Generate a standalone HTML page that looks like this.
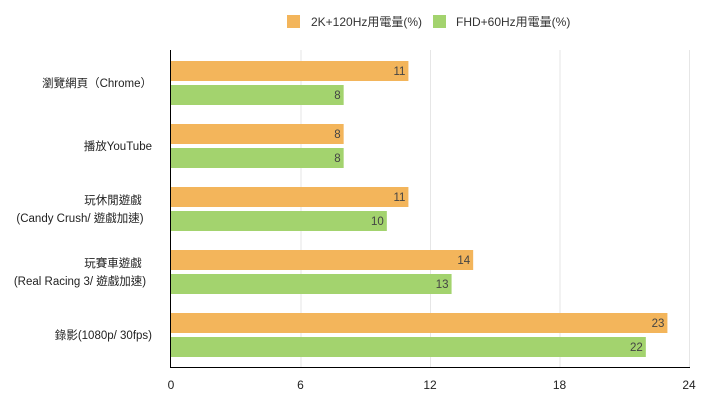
<!DOCTYPE html>
<html><head><meta charset="utf-8"><style>
body{margin:0;background:#fff;width:720px;height:404px;overflow:hidden;font-family:"Liberation Sans","Noto Sans CJK TC",sans-serif;}
</style></head><body>
<svg id="chart" width="720" height="404" xmlns="http://www.w3.org/2000/svg" font-family="Liberation Sans, Noto Sans CJK TC, sans-serif">
<g>
<rect x="287" y="15" width="13" height="13" fill="#F3B55B"/>
<text x="311" y="26" font-size="12" fill="#333">2K+120Hz用電量(%)</text>
<rect x="433" y="15" width="13" height="13" fill="#A3D36E"/>
<text x="456" y="26" font-size="12" fill="#333">FHD+60Hz用電量(%)</text>
</g>
<g id="grid"></g><g id="bars"></g><g id="labels"></g>
<line x1="170.5" y1="50" x2="170.5" y2="368" stroke="#000" stroke-width="1"/>
<line x1="170" y1="367.5" x2="690" y2="367.5" stroke="#000" stroke-width="1"/>
</svg>
<script>
const categories=[["瀏覽網頁（Chrome）"],["播放YouTube"],["玩休閒遊戲","(Candy Crush/ 遊戲加速)"],["玩賽車遊戲","(Real Racing 3/ 遊戲加速)"],["錄影(1080p/ 30fps)"]];
const series2K=[11,8,11,14,23];
const seriesFHD=[8,8,10,13,22];
const ticks=[0,6,12,18,24];
const NS="http://www.w3.org/2000/svg";
const x0=171,x1=689,xmax=24;
function xs(v){return x0+(x1-x0)*v/xmax;}
function gy(i){return 61+i*63;}
const grid=document.getElementById('grid'),bars=document.getElementById('bars'),labels=document.getElementById('labels');
function mk(tag,attrs,parent){const e=document.createElementNS(NS,tag);for(const k in attrs)e.setAttribute(k,attrs[k]);parent.appendChild(e);return e;}
ticks.forEach(t=>{
  if(t>0){const l=mk('line',{x1:xs(t)+0.5,x2:xs(t)+0.5,y1:50,y2:367,stroke:'#e6e6e6'},grid);
  
  }
  const tx=mk('text',{x:xs(t),y:389,'text-anchor':'middle','font-size':12,fill:'#222'},labels);
  tx.textContent=t;
  
  
});
categories.forEach((c,i)=>{
  const y=gy(i);
  [[series2K[i],'#F3B55B',0,'2k'],[seriesFHD[i],'#A3D36E',24,'fhd']].forEach(([v,col,off,nm])=>{
    const r=mk('rect',{x:x0,y:y+off,width:xs(v)-x0,height:20,fill:col},bars);
    
    
    const t=mk('text',{x:xs(v)-3,y:y+off+14,'text-anchor':'end','font-size':11.5,fill:'#444'},labels);
    t.textContent=v;
    
    
  });
  const cy=y+22;
  c.forEach((line,j)=>{
    const single=c.length==1;
    const yy=single?cy+4:cy-5+j*18;
    const t=mk('text',{x:single?152:(j==0?113:80),y:yy,'text-anchor':single?'end':'middle','font-size':11.5,fill:'#222'},labels);
    t.textContent=line;
    
    
  });
});
</script>
</body></html>
